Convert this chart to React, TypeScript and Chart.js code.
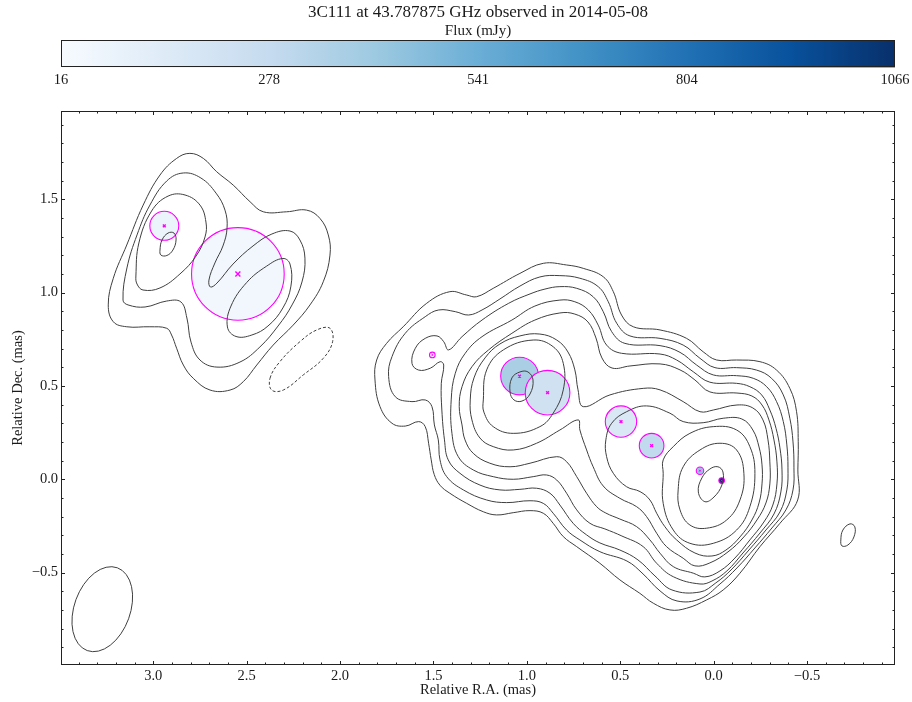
import { useEffect, useRef } from 'react';
import { Chart, registerables } from 'chart.js';

Chart.register(...registerables);

// ---- text ----
const TITLE = '3C111 at 43.787875 GHz observed in 2014-05-08';
const CBAR_LABEL = 'Flux (mJy)';
const X_LABEL = 'Relative R.A. (mas)';
const Y_LABEL = 'Relative Dec. (mas)';

// ---- axes ----
const RA_MIN = -0.971;
const RA_MAX = 3.494;
const DEC_MIN = -0.995;
const DEC_MAX = 1.973;
const RA_TICKS = [3.0, 2.5, 2.0, 1.5, 1.0, 0.5, 0.0, -0.5];
const DEC_TICKS = [-0.5, 0.0, 0.5, 1.0, 1.5];

// ---- colour bar ----
const FLUX_MIN = 16;
const FLUX_MAX = 1066;
const FLUX_TICKS = [16, 278, 541, 804, 1066];
const BLUES = ['#f7fbff', '#deebf7', '#c6dbef', '#9ecae1', '#6baed6', '#4292c6', '#2171b5', '#08519c', '#08306b'];

// ---- model components (RA, Dec in mas; FWHM size in mas; flux in mJy) ----
const COMP_RA = [2.941, 2.547, 1.506, 1.039, 0.889, 0.496, 0.332, 0.073, -0.043];
const COMP_DEC = [1.358, 1.100, 0.666, 0.553, 0.464, 0.309, 0.180, 0.046, -0.007];
const COMP_SIZE = [0.155, 0.496, 0.030, 0.202, 0.239, 0.168, 0.132, 0.040, 0.030];
const COMP_FLUX = [80, 45, 40, 370, 225, 170, 290, 420, 1066];

// ---- restoring beam ----
const BEAM_RA = 3.273;
const BEAM_DEC = -0.696;
const BEAM_MAJ = 0.472;
const BEAM_MIN = 0.300;
const BEAM_PA = -20;

// ---- contours of the jet / core region (RA, Dec pairs, mas) ----
const JET_L1 = [[1.813,0.532],[1.804,0.639],[1.751,0.728],[1.662,0.817],[1.536,0.943],[1.412,1.005],[1.322,0.987],[1.269,0.978],[1.180,1.023],[1.037,1.103],[0.912,1.157],[0.787,1.148],[0.698,1.130],[0.591,1.085],[0.537,1.005],[0.493,0.880],[0.430,0.817],[0.287,0.800],[0.145,0.755],[0.056,0.683],[-0.016,0.639],[-0.123,0.639],[-0.248,0.630],[-0.337,0.585],[-0.408,0.487],[-0.444,0.362],[-0.453,0.201],[-0.451,0.050],[-0.450,-0.111],[-0.355,-0.236],[-0.248,-0.361],[-0.141,-0.503],[-0.051,-0.593],[0.037,-0.646],[0.145,-0.691],[0.234,-0.700],[0.323,-0.664],[0.395,-0.611],[0.502,-0.539],[0.609,-0.450],[0.733,-0.361],[0.805,-0.307],[0.859,-0.236],[0.912,-0.182],[0.983,-0.168],[1.073,-0.179],[1.162,-0.191],[1.233,-0.174],[1.322,-0.129],[1.412,-0.075],[1.465,-0.032],[1.496,0.026],[1.512,0.104],[1.526,0.193],[1.544,0.282],[1.579,0.309],[1.651,0.285],[1.722,0.300],[1.786,0.389]];
const JET_L2 = [[1.740,0.550],[1.722,0.657],[1.651,0.782],[1.544,0.871],[1.472,0.907],[1.383,0.898],[1.312,0.880],[1.240,0.907],[1.144,0.966],[1.037,1.035],[0.930,1.084],[0.823,1.091],[0.716,1.077],[0.618,1.032],[0.564,0.951],[0.519,0.836],[0.448,0.768],[0.287,0.755],[0.163,0.719],[0.073,0.648],[-0.007,0.598],[-0.123,0.598],[-0.230,0.585],[-0.310,0.541],[-0.373,0.452],[-0.408,0.327],[-0.425,0.200],[-0.430,0.061],[-0.425,-0.057],[-0.387,-0.164],[-0.312,-0.261],[-0.221,-0.368],[-0.125,-0.475],[-0.034,-0.561],[0.073,-0.641],[0.196,-0.652],[0.287,-0.598],[0.378,-0.507],[0.464,-0.438],[0.609,-0.388],[0.716,-0.325],[0.787,-0.272],[0.859,-0.182],[0.912,-0.129],[0.983,-0.115],[1.108,-0.125],[1.215,-0.111],[1.340,-0.057],[1.429,0.014],[1.465,0.104],[1.474,0.211],[1.495,0.291],[1.508,0.389],[1.544,0.425],[1.615,0.416],[1.704,0.442]];
const JET_L3 = [[1.458,0.514],[1.445,0.612],[1.464,0.630],[1.517,0.595],[1.579,0.585],[1.615,0.621],[1.597,0.702],[1.544,0.755],[1.481,0.768],[1.445,0.737],[1.419,0.693],[1.347,0.764],[1.240,0.853],[1.097,0.943],[0.983,0.993],[0.903,1.019],[0.823,1.032],[0.733,1.023],[0.645,0.978],[0.591,0.898],[0.546,0.791],[0.475,0.728],[0.287,0.716],[0.180,0.680],[0.091,0.612],[0.002,0.559],[-0.123,0.555],[-0.212,0.541],[-0.284,0.496],[-0.337,0.416],[-0.373,0.309],[-0.392,0.184],[-0.398,0.061],[-0.392,-0.057],[-0.355,-0.175],[-0.280,-0.272],[-0.189,-0.379],[-0.093,-0.486],[-0.012,-0.555],[0.073,-0.604],[0.223,-0.593],[0.314,-0.518],[0.405,-0.432],[0.502,-0.379],[0.609,-0.341],[0.680,-0.298],[0.752,-0.236],[0.823,-0.138],[0.876,-0.075],[0.948,-0.048],[1.037,-0.054],[1.144,-0.057],[1.251,-0.031],[1.358,0.032],[1.421,0.104],[1.441,0.211],[1.455,0.371]];
const JET_L4 = [[1.405,0.425],[1.383,0.568],[1.330,0.675],[1.240,0.764],[1.080,0.853],[0.957,0.928],[0.823,0.960],[0.743,0.951],[0.671,0.907],[0.618,0.826],[0.573,0.719],[0.493,0.675],[0.287,0.671],[0.198,0.639],[0.109,0.576],[0.020,0.520],[-0.123,0.514],[-0.194,0.496],[-0.257,0.452],[-0.301,0.371],[-0.334,0.273],[-0.355,0.168],[-0.366,0.050],[-0.360,-0.068],[-0.323,-0.186],[-0.248,-0.288],[-0.157,-0.395],[-0.071,-0.491],[0.009,-0.545],[0.073,-0.561],[0.216,-0.522],[0.305,-0.450],[0.377,-0.361],[0.491,-0.304],[0.582,-0.266],[0.662,-0.236],[0.733,-0.164],[0.787,-0.075],[0.840,-0.004],[0.894,0.023],[0.966,0.014],[1.073,0.000],[1.180,0.014],[1.287,0.050],[1.367,0.121],[1.401,0.246]];
const JET_L5 = [[1.362,0.389],[1.347,0.496],[1.294,0.603],[1.205,0.693],[1.080,0.782],[0.957,0.853],[0.823,0.891],[0.743,0.885],[0.673,0.843],[0.630,0.757],[0.598,0.650],[0.544,0.596],[0.448,0.607],[0.287,0.618],[0.180,0.586],[0.100,0.532],[0.020,0.468],[-0.125,0.462],[-0.205,0.446],[-0.259,0.398],[-0.296,0.318],[-0.323,0.211],[-0.339,0.093],[-0.339,-0.025],[-0.317,-0.138],[-0.269,-0.229],[-0.194,-0.325],[-0.114,-0.422],[-0.034,-0.491],[0.047,-0.523],[0.109,-0.503],[0.216,-0.468],[0.287,-0.396],[0.341,-0.325],[0.412,-0.254],[0.502,-0.213],[0.577,-0.181],[0.626,-0.147],[0.680,-0.075],[0.733,0.014],[0.787,0.094],[0.840,0.121],[0.983,0.086],[1.090,0.067],[1.198,0.086],[1.287,0.139],[1.331,0.211],[1.347,0.291]];
const JET_L6 = [[1.303,0.425],[1.283,0.543],[1.224,0.650],[1.144,0.725],[1.037,0.768],[0.930,0.778],[0.840,0.746],[0.780,0.682],[0.743,0.586],[0.726,0.479],[0.698,0.389],[0.555,0.452],[0.377,0.487],[0.287,0.479],[0.163,0.416],[0.073,0.362],[0.002,0.371],[-0.125,0.398],[-0.210,0.382],[-0.264,0.318],[-0.291,0.211],[-0.301,0.093],[-0.301,-0.025],[-0.280,-0.127],[-0.232,-0.218],[-0.162,-0.309],[-0.077,-0.389],[0.020,-0.448],[0.100,-0.464],[0.163,-0.423],[0.252,-0.361],[0.305,-0.289],[0.359,-0.200],[0.412,-0.147],[0.502,-0.102],[0.591,-0.036],[0.645,0.067],[0.680,0.157],[0.716,0.264],[0.725,0.318],[0.823,0.264],[0.948,0.193],[1.073,0.157],[1.180,0.175],[1.251,0.221],[1.294,0.318]];
const KNOT_L7 = [[1.233,0.425],[1.215,0.586],[1.126,0.693],[0.966,0.746],[0.859,0.710],[0.805,0.621],[0.805,0.479],[0.859,0.354],[0.930,0.282],[1.073,0.246],[1.180,0.282],[1.230,0.360]];
const KNOT_L8 = [[1.090,0.468],[1.080,0.543],[1.037,0.575],[0.994,0.575],[0.967,0.532],[0.983,0.457],[1.026,0.419],[1.069,0.425]];
const CORE_L7 = [[0.573,0.121],[0.577,0.211],[0.546,0.300],[0.466,0.362],[0.359,0.393],[0.234,0.354],[0.163,0.309],[0.056,0.303],[-0.051,0.327],[-0.151,0.323],[-0.210,0.264],[-0.243,0.173],[-0.259,0.077],[-0.259,-0.025],[-0.243,-0.127],[-0.205,-0.218],[-0.141,-0.309],[-0.066,-0.379],[0.009,-0.411],[0.100,-0.395],[0.198,-0.325],[0.261,-0.254],[0.305,-0.182],[0.341,-0.111],[0.394,-0.066],[0.466,-0.040],[0.537,0.032]];
const CORE_L8 = [[0.270,0.104],[0.216,0.175],[0.127,0.246],[0.002,0.282],[-0.123,0.264],[-0.194,0.175],[-0.221,0.032],[-0.194,-0.147],[-0.123,-0.272],[0.002,-0.343],[0.127,-0.343],[0.216,-0.272],[0.270,-0.129],[0.270,0.032]];
const CORE_L9 = [[0.190,-0.057],[0.163,0.067],[0.073,0.157],[-0.034,0.193],[-0.123,0.157],[-0.162,0.032],[-0.141,-0.111],[-0.070,-0.218],[0.037,-0.262],[0.127,-0.245],[0.180,-0.164]];
const CORE_L10 = [[0.082,-0.068],[0.063,0.007],[0.020,0.055],[-0.023,0.067],[-0.050,0.039],[-0.044,-0.031],[-0.002,-0.095],[0.047,-0.120]];
const ISLAND_L1 = [[-0.681,-0.325],[-0.692,-0.272],[-0.730,-0.239],[-0.756,-0.255],[-0.751,-0.309],[-0.719,-0.352],[-0.687,-0.357]];

// ---- contours of the north-eastern lobe ----
const LOBE_L1 = [[3.241,0.934],[3.214,1.077],[3.142,1.255],[3.054,1.469],[2.964,1.630],[2.875,1.719],[2.804,1.746],[2.732,1.719],[2.661,1.648],[2.572,1.576],[2.482,1.487],[2.411,1.433],[2.286,1.433],[2.179,1.442],[2.108,1.398],[2.063,1.309],[2.054,1.201],[2.090,1.058],[2.161,0.934],[2.251,0.826],[2.358,0.719],[2.446,0.612],[2.518,0.523],[2.589,0.478],[2.696,0.478],[2.786,0.541],[2.839,0.612],[2.875,0.702],[2.902,0.773],[2.928,0.809],[3.018,0.817],[3.142,0.817],[3.214,0.844]];
const LOBE_L2 = [[3.162,0.960],[3.141,1.132],[3.087,1.309],[3.018,1.469],[2.928,1.598],[2.839,1.641],[2.745,1.614],[2.664,1.533],[2.616,1.442],[2.605,1.346],[2.627,1.250],[2.670,1.159],[2.702,1.067],[2.694,1.030],[2.659,1.051],[2.573,1.153],[2.466,1.250],[2.365,1.314],[2.268,1.330],[2.215,1.282],[2.188,1.185],[2.204,1.057],[2.257,0.934],[2.332,0.821],[2.429,0.709],[2.536,0.628],[2.659,0.601],[2.750,0.639],[2.798,0.735],[2.820,0.864],[2.852,0.950],[2.928,0.955],[3.044,0.923],[3.135,0.934]];
const LOBE_L3_NORTH = [[3.093,1.089],[3.077,1.266],[3.009,1.437],[2.921,1.517],[2.830,1.523],[2.750,1.469],[2.718,1.378],[2.723,1.298],[2.771,1.196],[2.857,1.100],[2.964,1.025],[3.055,1.014],[3.087,1.046]];
const LOBE_L3_SOUTH = [[2.603,0.816],[2.584,0.928],[2.500,1.054],[2.393,1.142],[2.306,1.183],[2.268,1.153],[2.263,1.035],[2.306,0.918],[2.386,0.821],[2.472,0.773],[2.557,0.765]];
const LOBE_L4 = [[2.964,1.228],[2.953,1.282],[2.921,1.319],[2.889,1.319],[2.878,1.282],[2.895,1.228],[2.927,1.199],[2.959,1.201]];
const LOBE_NEG = [[2.375,0.541],[2.322,0.630],[2.215,0.737],[2.125,0.800],[2.054,0.809],[2.040,0.737],[2.090,0.648],[2.197,0.559],[2.304,0.478],[2.366,0.478]];

const POSITIVE_CONTOURS = [
  JET_L1, JET_L2, JET_L3, JET_L4, JET_L5, JET_L6, KNOT_L7, KNOT_L8,
  CORE_L7, CORE_L8, CORE_L9, CORE_L10, ISLAND_L1,
  LOBE_L1, LOBE_L2, LOBE_L3_NORTH, LOBE_L3_SOUTH, LOBE_L4,
];
const NEGATIVE_CONTOURS = [LOBE_NEG];

// ---- styling ----
const FONT = "'Liberation Serif', 'DejaVu Serif', serif";
const INK = '#1a1a1a';
const CONTOUR_COLOR = '#3f3f3f';
const MAGENTA = '#ff00ff';
const CBAR_HEIGHT = 27;

function hexRgb(h: string): number[] {
  const n = parseInt(h.slice(1), 16);
  return [(n >> 16) & 255, (n >> 8) & 255, n & 255];
}

function fluxColor(f: number): string {
  const t = Math.min(1, Math.max(0, (f - FLUX_MIN) / (FLUX_MAX - FLUX_MIN)));
  const pos = t * (BLUES.length - 1);
  const i = Math.min(BLUES.length - 2, Math.floor(pos));
  const u = pos - i;
  const a = hexRgb(BLUES[i]);
  const b = hexRgb(BLUES[i + 1]);
  const c = a.map((v, k) => Math.round(v + (b[k] - v) * u));
  return `rgb(${c[0]},${c[1]},${c[2]})`;
}

const fmtTick = (v: number) => Number(v).toFixed(1).replace('-', '\u2212');

// Turn a list of (RA, Dec) pairs into a closed smooth line dataset
function contourDataset(pts: number[][], dashed: boolean) {
  return {
    type: 'line' as const,
    data: pts.map(([x, y]) => ({ x, y })),
    xAxisID: 'x',
    yAxisID: 'y',
    borderColor: CONTOUR_COLOR,
    borderWidth: 1,
    borderDash: dashed ? [3, 2] : [],
    pointRadius: 0,
    pointHoverRadius: 0,
    tension: 0.4,
    fill: false,
    closed: true,
    order: 1,
  };
}

// Make line datasets flagged `closed` wrap around smoothly
const closedLoops = {
  id: 'closedLoops',
  afterDatasetUpdate(chart: any, args: any) {
    const ds = chart.data.datasets[args.index];
    const line = args.meta && args.meta.dataset;
    if (ds && ds.closed && line) {
      line._loop = true;
      line._fullLoop = true;
    }
  },
};

// Frame, inward ticks, restoring beam and the colour bar strip
const decorations = {
  id: 'decorations',
  afterDatasetsDraw(chart: any) {
    const { ctx, chartArea: a, scales } = chart;
    const sx = scales.x;
    const sy = scales.y;

    // restoring beam
    const cx = sx.getPixelForValue(BEAM_RA);
    const cy = sy.getPixelForValue(BEAM_DEC);
    const rMaj = Math.abs(sy.getPixelForValue(BEAM_DEC + BEAM_MAJ / 2) - cy);
    const rMin = Math.abs(sx.getPixelForValue(BEAM_RA + BEAM_MIN / 2) - cx);
    ctx.save();
    ctx.strokeStyle = CONTOUR_COLOR;
    ctx.lineWidth = 1;
    ctx.beginPath();
    ctx.ellipse(cx, cy, rMin, rMaj, (-BEAM_PA * Math.PI) / 180, 0, Math.PI * 2);
    ctx.stroke();
    ctx.restore();

    // frame
    const L = Math.round(a.left) + 0.5;
    const R = Math.round(a.right) - 0.5;
    const T = Math.round(a.top) + 0.5;
    const B = Math.round(a.bottom) - 0.5;
    ctx.save();
    ctx.strokeStyle = '#222';
    ctx.lineWidth = 1;
    ctx.strokeRect(L, T, R - L, B - T);

    // inward ticks on all four sides
    ctx.beginPath();
    for (let k = Math.ceil(RA_MIN * 10); k <= Math.floor(RA_MAX * 10); k++) {
      const major = k % 5 === 0;
      const len = major ? 3.5 : 2;
      const px = Math.round(sx.getPixelForValue(k / 10)) + 0.5;
      ctx.moveTo(px, B); ctx.lineTo(px, B - len);
      ctx.moveTo(px, T); ctx.lineTo(px, T + len);
    }
    for (let k = Math.ceil(DEC_MIN * 10); k <= Math.floor(DEC_MAX * 10); k++) {
      const major = k % 5 === 0;
      const len = major ? 3.5 : 2;
      const py = Math.round(sy.getPixelForValue(k / 10)) + 0.5;
      ctx.moveTo(L, py); ctx.lineTo(L + len, py);
      ctx.moveTo(R, py); ctx.lineTo(R - len, py);
    }
    ctx.stroke();
    ctx.restore();
  },
  afterDraw(chart: any) {
    const { ctx } = chart;
    const cb = chart.scales.cb;
    const x0 = cb.getPixelForValue(FLUX_MIN);
    const x1 = cb.getPixelForValue(FLUX_MAX);
    const y1 = cb.top;
    const y0 = y1 - CBAR_HEIGHT;
    const g = ctx.createLinearGradient(x0, 0, x1, 0);
    BLUES.forEach((c, i) => g.addColorStop(i / (BLUES.length - 1), c));
    ctx.save();
    ctx.fillStyle = g;
    ctx.fillRect(x0, y0, x1 - x0, y1 - y0);
    ctx.strokeStyle = '#222';
    ctx.lineWidth = 1;
    ctx.strokeRect(Math.round(x0) + 0.5, Math.round(y0) + 0.5, Math.round(x1 - x0) - 1, Math.round(y1 - y0) - 1);
    ctx.restore();
  },
};

function compRadius(chart: any, i: number): number {
  const sx = chart.scales.x;
  const r = Math.abs(sx.getPixelForValue(COMP_SIZE[i] / 2) - sx.getPixelForValue(0));
  return Math.max(2.5, r);
}

export default function App() {
  const canvasRef = useRef<HTMLCanvasElement | null>(null);

  useEffect(() => {
    if (!canvasRef.current) return;
    const compPoints = COMP_RA.map((x, i) => ({ x, y: COMP_DEC[i] }));

    const datasets: any[] = [
      // component centres
      {
        type: 'scatter',
        data: compPoints,
        xAxisID: 'x',
        yAxisID: 'y',
        pointStyle: 'crossRot',
        pointRadius: (c: any) => (COMP_SIZE[c.dataIndex] > 0.4 ? 3.5 : COMP_SIZE[c.dataIndex] < 0.05 ? 1.2 : 2),
        pointBorderColor: MAGENTA,
        pointBorderWidth: (c: any) => (COMP_SIZE[c.dataIndex] < 0.05 ? 1 : 1.4),
        pointBackgroundColor: MAGENTA,
        order: 0,
      },
      ...POSITIVE_CONTOURS.map((p) => contourDataset(p, false)),
      ...NEGATIVE_CONTOURS.map((p) => contourDataset(p, true)),
      // component extents, coloured by flux
      {
        type: 'scatter',
        data: compPoints,
        xAxisID: 'x',
        yAxisID: 'y',
        pointStyle: 'circle',
        pointRadius: (c: any) => compRadius(c.chart, c.dataIndex),
        pointBackgroundColor: COMP_FLUX.map(fluxColor),
        pointBorderColor: MAGENTA,
        pointBorderWidth: 1.1,
        order: 2,
      },
    ];

    const tickFont = { family: FONT, size: 14.5, lineHeight: 1.2 };

    const chart = new Chart(canvasRef.current, {
      type: 'scatter',
      data: { datasets },
      plugins: [closedLoops, decorations],
      options: {
        responsive: true,
        maintainAspectRatio: false,
        animation: false,
        devicePixelRatio: 1,
        events: [],
        layout: { padding: { left: 0, right: 17, top: 0, bottom: 0 } },
        plugins: {
          legend: { display: false },
          tooltip: { enabled: false },
          title: {
            display: true,
            text: TITLE,
            fullSize: false,
            color: INK,
            font: { family: FONT, size: 17, weight: 'normal', lineHeight: 1.2 },
            padding: { top: 2, bottom: 0 },
          },
          subtitle: {
            display: true,
            text: CBAR_LABEL,
            fullSize: false,
            color: INK,
            font: { family: FONT, size: 15, weight: 'normal', lineHeight: 1.2 },
            padding: { top: 0, bottom: CBAR_HEIGHT },
          },
        },
        scales: {
          x: {
            type: 'linear',
            position: 'bottom',
            reverse: true,
            min: RA_MIN,
            max: RA_MAX,
            afterBuildTicks: (s: any) => { s.ticks = RA_TICKS.map((value) => ({ value })); },
            afterFit: (s: any) => { s.height = 37; },
            grid: { display: false, drawTicks: false },
            border: { display: false },
            ticks: { color: INK, font: tickFont, padding: 2.3, maxRotation: 0, autoSkip: false, callback: (v: any) => fmtTick(v) },
            title: { display: true, text: X_LABEL, color: INK, font: tickFont, padding: { top: 0, bottom: 3.3 } },
          },
          y: {
            type: 'linear',
            position: 'left',
            min: DEC_MIN,
            max: DEC_MAX,
            afterBuildTicks: (s: any) => { s.ticks = DEC_TICKS.map((value) => ({ value })); },
            afterFit: (s: any) => { s.width = 61; },
            grid: { display: false, drawTicks: false },
            border: { display: false },
            ticks: { color: INK, font: tickFont, padding: 3, autoSkip: false, callback: (v: any) => fmtTick(v) },
            title: { display: true, text: Y_LABEL, color: INK, font: tickFont, padding: { top: 9.3, bottom: 0 } },
          },
          cb: {
            type: 'linear',
            axis: 'x',
            position: 'top',
            min: FLUX_MIN,
            max: FLUX_MAX,
            afterBuildTicks: (s: any) => { s.ticks = FLUX_TICKS.map((value) => ({ value })); },
            afterFit: (s: any) => { s.height = 43.6; },
            // invisible tick marks provide the gap between the labels and the plot
            grid: { display: false, drawTicks: true, tickLength: 22.3 },
            border: { display: false },
            ticks: { color: INK, font: tickFont, padding: 0, maxRotation: 0, autoSkip: false, callback: (v: any) => String(v) },
          },
        },
      } as any,
    });

    return () => chart.destroy();
  }, []);

  return (
    <div style={{ position: 'absolute', left: 0, top: 0, width: 912, height: 702, background: '#fff' }}>
      <canvas ref={canvasRef} />
    </div>
  );
}
